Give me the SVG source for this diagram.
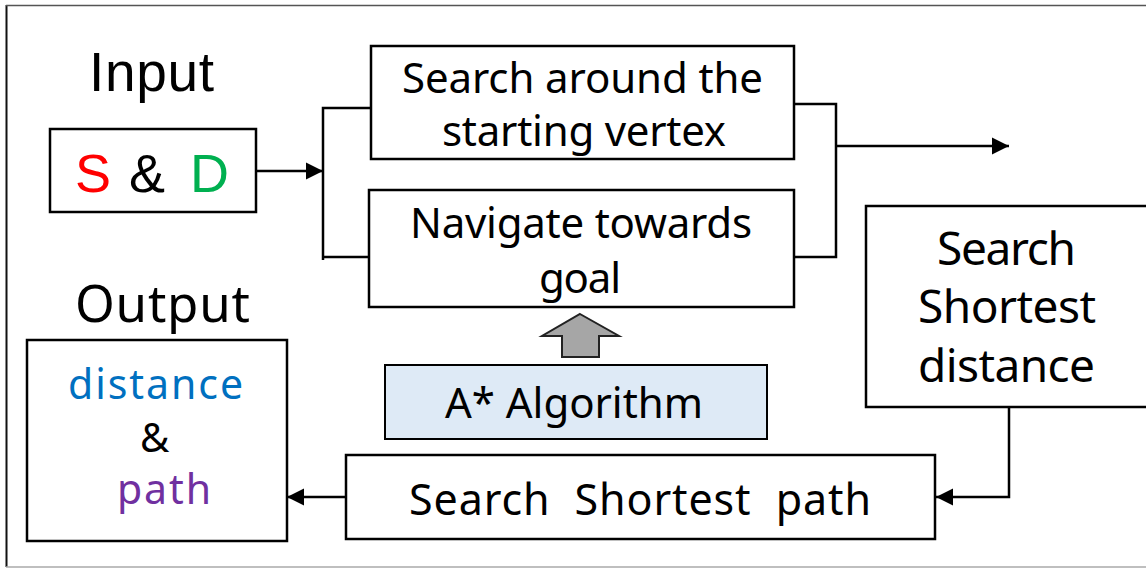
<svg xmlns="http://www.w3.org/2000/svg" width="1146" height="569" viewBox="0 0 1146 569">
<style>
.box{fill:#fff;stroke:#000;stroke-width:2.5}
.ln{fill:none;stroke:#000;stroke-width:2.5}
.t{font-family:"Noto Sans","Open Sans",sans-serif}
.a{font-family:"Liberation Sans",Arial,sans-serif}
</style>
<defs>
<marker id="ah" markerUnits="userSpaceOnUse" markerWidth="18" markerHeight="18" refX="17" refY="9" orient="auto">
<path d="M0,0.5 L17,9 L0,17.5 Z" fill="#000"/>
</marker>
</defs>
<rect x="0" y="0" width="1146" height="569" fill="#fff"/>
<g id="frame">
<line x1="6.5" y1="5" x2="6.5" y2="567" stroke="#111" stroke-width="2"/>
<line x1="6" y1="5.5" x2="1146" y2="5.5" stroke="#555" stroke-width="1.5"/>
<line x1="6" y1="567" x2="1146" y2="567" stroke="#aaa" stroke-width="1.5"/>
</g>
<g id="input-label"><text class="a" x="89" y="91" font-size="55" textLength="125">Input</text></g>
<g id="output-label"><text class="t" x="75" y="322" font-size="51" textLength="175">Output</text></g>
<g id="sd">
<rect class="box" x="50" y="129" width="206" height="83"/>
<text class="a" x="75" y="192" font-size="54"><tspan fill="#ff0000">S</tspan><tspan fill="#000" x="129">&amp;</tspan><tspan fill="#00b050" x="190">D</tspan></text>
</g>
<g id="search-around">
<rect class="box" x="371" y="46" width="423" height="113"/>
<text class="t" x="402" y="93" font-size="42" textLength="361">Search around the</text>
<text class="t" x="442" y="146" font-size="42" textLength="284">starting vertex</text>
</g>
<g id="navigate">
<rect class="box" x="369" y="190" width="425" height="117"/>
<text class="t" x="410" y="238" font-size="42" textLength="342">Navigate towards</text>
<text class="t" x="539" y="293" font-size="42" textLength="82">goal</text>
</g>
<g id="astar">
<rect x="385" y="365" width="382" height="74" fill="#deeaf6" stroke="#000" stroke-width="2"/>
<text class="t" x="445" y="418" font-size="42" textLength="258">A* Algorithm</text>
</g>
<g id="shortest-distance">
<rect class="box" x="866" y="206" width="290" height="201"/>
<text class="t" x="937" y="265" font-size="46" textLength="139">Search</text>
<text class="t" x="918" y="323" font-size="46" textLength="178">Shortest</text>
<text class="t" x="918" y="382" font-size="46" textLength="177">distance</text>
</g>
<g id="shortest-path">
<rect class="box" x="346" y="455" width="589" height="84"/>
<text class="t" x="409" y="515" font-size="43" textLength="462" xml:space="preserve">Search  Shortest  path</text>
</g>
<g id="output">
<rect class="box" x="27" y="340" width="260" height="201"/>
<text class="t" x="68" y="399" font-size="41" style="fill:#0070c0" textLength="175">distance</text>
<text class="t" x="140" y="452" font-size="40">&amp;</text>
<text class="t" x="117" y="504" font-size="41" style="fill:#7030a0" textLength="94">path</text>
</g>
<g id="connectors">
<line class="ln" x1="256" y1="171" x2="323" y2="171" marker-end="url(#ah)"/>
<path class="ln" d="M371,108 H323 V260 M323,257 H369"/>
<path class="ln" d="M794,104 H836 V257 H794"/>
<line class="ln" x1="836" y1="146" x2="1009" y2="146" marker-end="url(#ah)"/>
<path class="ln" d="M1009,407 V497 H936" marker-end="url(#ah)"/>
<line class="ln" x1="346" y1="497" x2="287" y2="497" marker-end="url(#ah)"/>
<path d="M580,314 L619,336 L599,336 L599,357 L562,357 L562,336 L542,336 Z" fill="#a6a6a6" stroke="#222" stroke-width="2"/>
</g>
</svg>
